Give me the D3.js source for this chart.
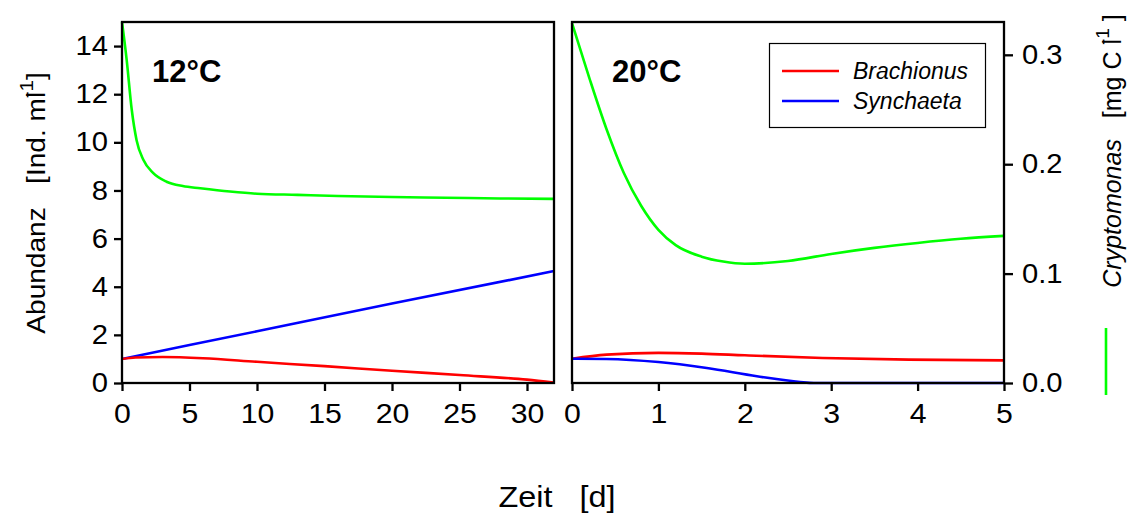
<!DOCTYPE html>
<html><head><meta charset="utf-8">
<script src="https://cdn.jsdelivr.net/npm/d3@7"></script>
<style>
body{margin:0;background:#fff;}
text{font-family:"Liberation Sans",Arial,sans-serif;fill:#000;white-space:pre;}
</style></head>
<body><svg id="c" width="1137" height="514"></svg>
<script>
// ---- data ----
const panels = ["12°C", "20°C"];
const xTicks12 = [0, 5, 10, 15, 20, 25, 30];
const xTicks20 = [0, 1, 2, 3, 4, 5];
const yTicksLeft = [0, 2, 4, 6, 8, 10, 12, 14];
const yTicksRight = [0.0, 0.1, 0.2, 0.3];

// 12°C  (Cryptomonas in mg C l-1, rotifers in Ind. ml-1)
const tCrypt12 = [0, 0.35, 0.72, 1.08, 1.58, 2.3, 3.3, 4.5, 5.8, 8, 10, 13, 16, 20, 24, 28, 32];
const crypt12  = [0.330, 0.295, 0.250, 0.222, 0.204, 0.192, 0.184, 0.180, 0.178, 0.175, 0.173, 0.172, 0.171, 0.170, 0.1694, 0.1687, 0.1683];
const tBrach12 = [0, 1, 3, 6, 10, 15, 20, 25, 30, 32];
const brach12  = [1.0, 1.06, 1.08, 1.03, 0.88, 0.70, 0.51, 0.33, 0.14, 0.02];
const tSynch12 = [0, 10, 20, 32];
const synch12  = [1.0, 2.15, 3.3, 4.65];

// 20°C
const tCrypt20 = [0, 0.2, 0.4, 0.6, 0.8, 1.0, 1.2, 1.5, 1.75, 2.0, 2.5, 3.0, 3.5, 4.0, 4.5, 5.0];
const crypt20  = [0.329, 0.279, 0.232, 0.192, 0.162, 0.140, 0.126, 0.1155, 0.111, 0.109, 0.1115, 0.118, 0.1235, 0.128, 0.1318, 0.1345];
const tBrach20 = [0, 0.4, 1.0, 1.5, 2.0, 2.9, 3.9, 5.0];
const brach20  = [1.01, 1.18, 1.25, 1.22, 1.15, 1.04, 0.97, 0.94];
const tSynch20 = [0, 0.4, 1.0, 1.56, 2.14, 2.64, 2.8, 5.0];
const synch20  = [1.01, 1.0, 0.87, 0.62, 0.28, 0.04, 0, 0];

const legendNames = ["Brachionus", "Synchaeta"];
const colors = {brach: "#ff0000", synch: "#0000ff", crypt: "#00ff00"};

// ---- layout ----
const svg = d3.select("#c");
const yTop = 22, yBot = 383;
const yL = d3.scaleLinear().domain([0, 15]).range([yBot, yTop]);
const yR = d3.scaleLinear().domain([0, 0.33]).range([yBot, yTop]);
const x12 = d3.scaleLinear().domain([0, 32]).range([122, 554]);
const x20 = d3.scaleLinear().domain([0, 5]).range([572, 1004]);
const SX = 1.08; // slight horizontal stretch of the lettering

function zip(t, v){ return t.map((d,i)=>[d, v[i]]); }
function drawLine(xs, ys, t, v, col){
  const line = d3.line().x(d=>xs(d[0])).y(d=>ys(d[1])).curve(d3.curveMonotoneX);
  svg.append("path").attr("d", line(zip(t, v))).attr("fill","none")
    .attr("stroke", col).attr("stroke-width", 2.6).attr("stroke-linejoin","round");
}

// curves
drawLine(x12, yR, tCrypt12, crypt12, colors.crypt);
drawLine(x12, yL, tSynch12, synch12, colors.synch);
drawLine(x12, yL, tBrach12, brach12, colors.brach);
drawLine(x20, yR, tCrypt20, crypt20, colors.crypt);
drawLine(x20, yL, tBrach20, brach20, colors.brach);
drawLine(x20, yL, tSynch20, synch20, colors.synch);

// frames
[x12, x20].forEach(xs=>{
  svg.append("rect").attr("x", xs.range()[0]).attr("y", yTop)
    .attr("width", xs.range()[1]-xs.range()[0]).attr("height", yBot-yTop)
    .attr("fill","none").attr("stroke","#000").attr("stroke-width",2.3);
});

function styleAxis(g, fs){
  g.select(".domain").remove();
  g.selectAll("line").attr("stroke","#000").attr("stroke-width",2.3);
  g.selectAll("text").attr("font-size", fs).attr("font-family","Liberation Sans, Arial, sans-serif")
    .attr("fill","#000").attr("transform", `scale(${SX},1)`);
}
// axes
svg.append("g").attr("transform",`translate(0,${yBot})`)
  .call(d3.axisBottom(x12).tickValues(xTicks12).tickSize(8).tickPadding(12).tickFormat(d3.format("d")))
  .call(g=>styleAxis(g, 28));
svg.append("g").attr("transform",`translate(0,${yBot})`)
  .call(d3.axisBottom(x20).tickValues(xTicks20).tickSize(8).tickPadding(12).tickFormat(d3.format("d")))
  .call(g=>styleAxis(g, 28));
svg.append("g").attr("transform",`translate(122,0)`)
  .call(d3.axisLeft(yL).tickValues(yTicksLeft).tickSize(8).tickPadding(6).tickFormat(d3.format("d")))
  .call(g=>{ styleAxis(g, 27); g.selectAll("text").attr("x", -14/SX); });
svg.append("g").attr("transform",`translate(1004,0)`)
  .call(d3.axisRight(yR).tickValues(yTicksRight).tickSize(9).tickPadding(9).tickFormat(d3.format(".1f")))
  .call(g=>{ styleAxis(g, 27); g.selectAll("text").attr("x", 18/SX); });

// panel titles
svg.append("text").attr("x",152).attr("y",82).attr("font-size",31).attr("font-weight","bold").text(panels[0]);
svg.append("text").attr("x",612).attr("y",82).attr("font-size",31).attr("font-weight","bold").text(panels[1]);

// legend
svg.append("rect").attr("x",769.5).attr("y",43.5).attr("width",216).attr("height",84)
  .attr("fill","#fff").attr("stroke","#000").attr("stroke-width",1.2);
[[legendNames[0], colors.brach, 71],[legendNames[1], colors.synch, 101]].forEach(([n,c,y])=>{
  svg.append("line").attr("x1",782).attr("x2",839).attr("y1",y).attr("y2",y).attr("stroke",c).attr("stroke-width",2.6);
  svg.append("text").attr("x",853).attr("y",y+8).attr("font-size",23).attr("font-style","italic").text(n);
});

// axis titles
const lt = svg.append("text").attr("transform",`translate(45,203) rotate(-90) scale(${SX},1)`)
  .attr("text-anchor","middle").attr("font-size",26);
lt.append("tspan").text("Abundanz   [Ind. ml");
lt.append("tspan").attr("font-size",19).attr("dy",-12).attr("dx",-6).text("-1");
lt.append("tspan").attr("dy",12).text("]");

const rt = svg.append("text").attr("transform","translate(1121,151) rotate(-90)")
  .attr("text-anchor","middle").attr("font-size",25);
rt.append("tspan").attr("font-style","italic").text("Cryptomonas");
rt.append("tspan").text("   [mg C l");
rt.append("tspan").attr("font-size",19).attr("dy",-12).attr("dx",-6).text("-1");
rt.append("tspan").attr("dy",12).text(" ]");
svg.append("line").attr("x1",1106).attr("x2",1106).attr("y1",328).attr("y2",395)
  .attr("stroke",colors.crypt).attr("stroke-width",2.6);

svg.append("text").attr("transform",`translate(557,507) scale(${SX},1)`).attr("text-anchor","middle")
  .attr("font-size",30).text("Zeit   [d]");
</script></body></html>
